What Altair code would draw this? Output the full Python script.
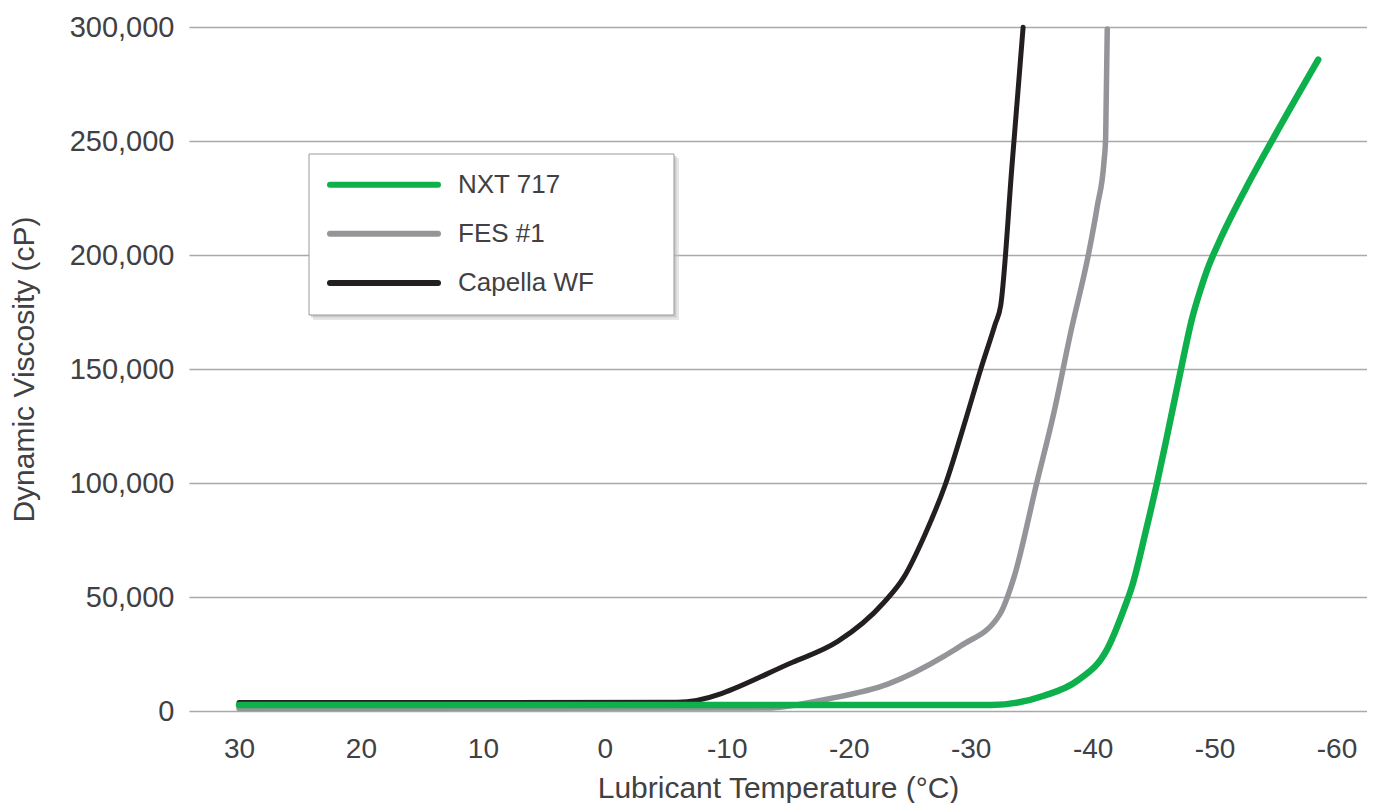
import altair as alt
import pandas as pd

# ---- data ----
series_names = ["NXT 717", "FES #1", "Capella WF"]
series_colors = ["#0db04b", "#939598", "#231f20"]
draw_order = ["Capella WF", "FES #1", "NXT 717"]
stroke_widths = {"NXT 717": 6.5, "FES #1": 5.5, "Capella WF": 5}

nxt_temp = [30, -31.7, -36.0, -38.75, -41.2, -42.57, -43.25, -44.34, -45.3, -46.12, -47.21, -48.17, -48.8, -49.5, -50.35, -52.54, -54.86, -58.5]
nxt_visc = [2600, 2630, 6700, 13300, 27200, 44700, 55000, 78400, 100500, 121000, 149000, 172500, 184000, 195000, 205500, 229000, 251600, 285700]

fes_temp = [30, -13.2, -18.5, -23.2, -27.9, -29.2, -32.4, -33.55, -35.43, -36.83, -38.2, -39.7, -40.39, -40.93, -41.07, -41.2]
fes_visc = [1100, 1300, 5500, 11800, 24300, 28600, 42500, 58600, 100300, 131000, 166000, 201400, 221600, 240700, 251600, 299100]

cap_temp = [30, -5.9, -15.4, -19.1, -22.9, -24.5, -26.3, -27.9, -29.6, -30.8, -32.0, -32.46, -33.4, -34.3]
cap_visc = [3700, 3800, 21400, 30500, 47700, 58500, 78000, 99000, 128000, 149500, 169500, 177800, 240000, 299900]

x_ticks = [30, 20, 10, 0, -10, -20, -30, -40, -50, -60]
y_ticks = [0, 50000, 100000, 150000, 200000, 250000, 300000]

rows = []
for name, temps, viscs in [("NXT 717", nxt_temp, nxt_visc),
                           ("FES #1", fes_temp, fes_visc),
                           ("Capella WF", cap_temp, cap_visc)]:
    for t, v in zip(temps, viscs):
        rows.append({"series": name, "temp": t, "visc": v})
df = pd.DataFrame(rows)
legend_df = pd.DataFrame({"series": series_names})
box_df = pd.DataFrame({"k": [0]})

FONT = "Liberation Sans"
TXT = "#414042"
GRID = "#a7a9ac"

x_enc = alt.X(
    "temp:Q",
    scale=alt.Scale(domain=[34.1, -62.5], nice=False, zero=False),
    axis=alt.Axis(
        values=x_ticks, labelExpr="datum.value + ''",
        title="Lubricant Temperature (°C)",
        grid=False, ticks=False, domain=False,
        labelPadding=24, labelFontSize=28, labelFont=FONT, labelColor=TXT,
        titleFontSize=30, titleFont=FONT, titleColor=TXT, titleFontWeight="normal",
        titlePadding=10,
    ),
)
y_enc = alt.Y(
    "visc:Q",
    scale=alt.Scale(domain=[0, 300000], nice=False),
    axis=alt.Axis(
        values=y_ticks, format=",d",
        title="Dynamic Viscosity (cP)",
        grid=True, gridColor=GRID, gridWidth=1.5,
        ticks=False, domain=False,
        labelPadding=15, labelFontSize=29, labelFont=FONT, labelColor=TXT,
        titleFontSize=30, titleFont=FONT, titleColor=TXT, titleFontWeight="normal",
        titlePadding=30,
    ),
)
color_scale = alt.Scale(domain=series_names, range=series_colors)
color_enc = alt.Color("series:N", scale=color_scale, legend=None)

base = alt.Chart(df)
line_layers = []
for name in draw_order:
    line_layers.append(
        base.transform_filter(alt.datum.series == name)
        .mark_line(interpolate="monotone", strokeWidth=stroke_widths[name],
                   strokeCap="round", strokeJoin="round")
        .encode(x=x_enc, y=y_enc, color=color_enc,
                order=alt.Order("temp:Q", sort="descending"))
    )
lines = alt.layer(*line_layers)

# ---- legend box (drawn as marks) ----
box_chart = alt.Chart(box_df)
shadow1 = box_chart.mark_rect(fill="#c8c8c8", opacity=0.45).encode(
    x=alt.value(124), x2=alt.value(490), y=alt.value(131), y2=alt.value(293))
shadow2 = box_chart.mark_rect(fill="#b4b4b4", opacity=0.5).encode(
    x=alt.value(122), x2=alt.value(487.5), y=alt.value(129), y2=alt.value(290.5))
box = box_chart.mark_rect(fill="white", stroke="#9a9a9a", strokeWidth=1).encode(
    x=alt.value(120), x2=alt.value(485), y=alt.value(127), y2=alt.value(288))

leg_y = alt.Y("series:N",
              scale=alt.Scale(type="point", domain=series_names, range=[157.7, 256], padding=0),
              axis=None)
leg_base = alt.Chart(legend_df)
leg_rules = leg_base.mark_rule(strokeWidth=6, strokeCap="round").encode(
    x=alt.value(141), x2=alt.value(249), y=leg_y, color=color_enc)
leg_text = leg_base.mark_text(align="left", baseline="middle", fontSize=26,
                              font=FONT, color=TXT).encode(
    x=alt.value(269), y=leg_y, text="series:N")
legend_layer = alt.layer(leg_rules, leg_text)

chart = alt.layer(lines, shadow1, shadow2, box, legend_layer).resolve_scale(
    y="independent"
).properties(
    width=1178, height=684,
    padding={"left": 1, "top": 5, "right": 0, "bottom": 0},
    background="white",
).configure_view(stroke=None)

chart.save("out.html", embed_options={"renderer": "svg", "actions": False})
